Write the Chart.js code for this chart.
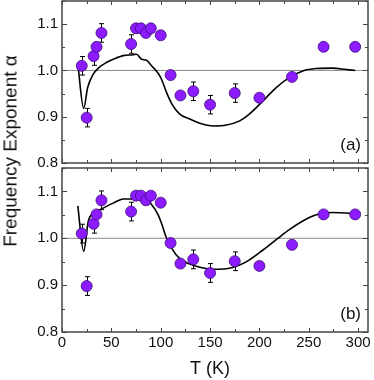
<!DOCTYPE html>
<html>
<head>
<meta charset="utf-8">
<script src="https://cdn.jsdelivr.net/npm/chart.js@4/dist/chart.umd.min.js"></script>
<style>
  html, body { margin: 0; padding: 0; background: #fff; }
  body { width: 374px; height: 380px; position: relative; overflow: hidden; font-family: "Liberation Sans", Arial, sans-serif; }
  #wrapA { position: absolute; left: 0; top: 0; width: 374px; height: 180px; }
  #wrapB { position: absolute; left: 0; top: 160px; width: 374px; height: 220px; }
  #ytitle { position: absolute; left: 9.5px; top: 151px; width: 260px; text-align: center;
            font-size: 19px; line-height: 19px; color: #111; white-space: nowrap;
            transform: translate(-50%, -50%) rotate(-90deg); }
</style>
</head>
<body>
<div id="wrapA"><canvas id="cA"></canvas></div>
<div id="wrapB"><canvas id="cB"></canvas></div>
<div id="ytitle">Frequency Exponent α</div>
<script>
// ---- data ----
const tempK = [20, 25, 32, 35, 40, 70, 75, 80, 85, 90, 100, 110, 120, 133, 150, 175, 200, 233, 265, 297];
const alphaVals = [1.010, 0.898, 1.031, 1.051, 1.081, 1.057, 1.091, 1.091, 1.081, 1.091, 1.076, 0.990, 0.946, 0.955, 0.926, 0.951, 0.941, 0.986, 1.051, 1.051];
const alphaErr = [0.02, 0.02, 0.02, 0, 0.02, 0.02, 0, 0, 0, 0, 0, 0, 0, 0.02, 0.02, 0.02, 0, 0, 0, 0];

const curveA_T = [16, 22, 26, 31.7, 37.4, 45, 51.9, 62, 72, 75.5, 80.6, 85.7, 90.7, 97.4, 100.8, 106, 111, 119, 129.5, 139.6, 153, 166.6, 180, 190, 203.6, 217, 230.6, 244, 257.6, 274, 288, 297];
const curveA_V = [1.014, 0.918, 0.963, 0.992, 1.006, 1.017, 1.024, 1.032, 1.034, 1.035, 1.024, 1.022, 1.010, 0.994, 0.981, 0.952, 0.929, 0.906, 0.895, 0.886, 0.880, 0.882, 0.891, 0.906, 0.934, 0.963, 0.985, 0.999, 1.004, 1.005, 1.002, 1.000];

const curveB_T = [16, 22, 26.6, 31.7, 38.4, 51.9, 62, 75.5, 85.7, 90.7, 97.4, 100.8, 106, 111, 119, 129.5, 139.6, 153, 166.6, 180, 190, 203.6, 217, 230.6, 244, 257.6, 274, 288, 297];
const curveB_V = [1.069, 0.972, 1.036, 1.054, 1.061, 1.075, 1.084, 1.084, 1.081, 1.072, 1.050, 1.032, 1.000, 0.979, 0.957, 0.945, 0.938, 0.934, 0.935, 0.943, 0.954, 0.975, 0.997, 1.019, 1.037, 1.050, 1.055, 1.054, 1.052];

const xTicks = [0, 50, 100, 150, 200, 250, 300];
const xMinor = [25, 75, 125, 175, 225, 275];
const yTicks = [0.8, 0.9, 1.0, 1.1];
const yMinor = [0.85, 0.95, 1.05, 1.15];
const refLine = [0, 310];
const refValue = 1.0;
const X_MIN = 0, X_MAX = 310, Y_MIN = 0.8, Y_MAX = 1.15;

// ---- plugins ----
const frameColor = '#444';
const framePlugin = {
  id: 'frame',
  afterDraw(chart, args, opts) {
    const {ctx, chartArea: a} = chart;
    const xs = chart.scales.x, ys = chart.scales.y;
    ctx.save();
    ctx.strokeStyle = frameColor;
    ctx.lineWidth = 1.5;
    ctx.strokeRect(a.left, a.top, a.right - a.left, a.bottom - a.top);
    ctx.lineWidth = 1;
    ctx.beginPath();
    const xt = (v, len) => {
      const p = Math.round(xs.getPixelForValue(v)) + 0.5;
      ctx.moveTo(p, a.bottom); ctx.lineTo(p, a.bottom - len);
      ctx.moveTo(p, a.top); ctx.lineTo(p, a.top + len);
    };
    const yt = (v, len) => {
      const p = Math.round(ys.getPixelForValue(v)) + 0.5;
      ctx.moveTo(a.left, p); ctx.lineTo(a.left + len, p);
      ctx.moveTo(a.right, p); ctx.lineTo(a.right - len, p);
    };
    xTicks.forEach(v => xt(v, 4));
    xMinor.forEach(v => xt(v, 3));
    yTicks.forEach(v => yt(v, 5));
    yMinor.forEach(v => yt(v, 3));
    ctx.stroke();
    // panel label
    ctx.fillStyle = '#111';
    ctx.font = '17px "Liberation Sans", Arial, sans-serif';
    ctx.textAlign = 'right';
    ctx.textBaseline = 'alphabetic';
    ctx.fillText(opts.label, a.right - 7, a.bottom - 13);
    if (opts.xTitle) {
      ctx.font = '18px "Liberation Sans", Arial, sans-serif';
      ctx.textAlign = 'center';
      ctx.fillText(opts.xTitle, xs.getPixelForValue(150), chart.height - 6);
    }
    ctx.restore();
  }
};

const errPlugin = {
  id: 'errbars',
  beforeDatasetsDraw(chart) {
    const {ctx} = chart;
    const xs = chart.scales.x, ys = chart.scales.y;
    ctx.save();
    ctx.strokeStyle = '#000';
    ctx.lineWidth = 1;
    ctx.beginPath();
    tempK.forEach((t, i) => {
      const e = alphaErr[i];
      if (!e) return;
      const px = Math.round(xs.getPixelForValue(t)) + 0.5;
      const y1 = ys.getPixelForValue(alphaVals[i] + e);
      const y2 = ys.getPixelForValue(alphaVals[i] - e);
      ctx.moveTo(px, y1); ctx.lineTo(px, y2);
      ctx.moveTo(px - 2.5, y1); ctx.lineTo(px + 2.5, y1);
      ctx.moveTo(px - 2.5, y2); ctx.lineTo(px + 2.5, y2);
    });
    ctx.stroke();
    ctx.restore();
  }
};

function makeChart(id, curveT, curveV, label, bottom) {
  const points = tempK.map((t, i) => ({x: t, y: alphaVals[i]}));
  const curve = curveT.map((t, i) => ({x: t, y: curveV[i]}));
  const ref = refLine.map(t => ({x: t, y: refValue}));
  const tickFont = {family: '"Liberation Sans", Arial, sans-serif', size: 15};
  return new Chart(document.getElementById(id), {
    type: 'scatter',
    data: {
      datasets: [
        {data: ref, showLine: true, borderColor: '#8a8a8a', borderWidth: 1, pointRadius: 0, order: 3},
        {data: curve, showLine: true, borderColor: '#000', borderWidth: 1.6, pointRadius: 0,
         cubicInterpolationMode: 'monotone', order: 2},
        {data: points, showLine: false, pointRadius: 5.5, pointBackgroundColor: '#8c1cff',
         pointBorderColor: '#3d0a78', pointBorderWidth: 0.8, order: 1}
      ]
    },
    options: {
      responsive: true,
      maintainAspectRatio: false,
      animation: false,
      events: [],
      layout: {autoPadding: false,
               padding: bottom ? {left: 0, right: 6, top: 8, bottom: 0} : {left: 0, right: 6, top: 1, bottom: 17}},
      plugins: {legend: {display: false}, tooltip: {enabled: false}, frame: {label: label, xTitle: bottom ? 'T (K)' : null}},
      scales: {
        x: {
          type: 'linear', min: X_MIN, max: X_MAX,
          display: bottom,
          grid: {display: false, drawTicks: false},
          border: {display: false},
          afterBuildTicks: s => { s.ticks = xTicks.map(v => ({value: v})); },
          afterFit: s => { s.height = bottom ? 48 : 0; s.paddingLeft = 0; s.paddingRight = 0; },
          ticks: {font: tickFont, color: '#111', padding: 2, maxRotation: 0, autoSkip: false}
        },
        y: {
          type: 'linear', min: Y_MIN, max: Y_MAX,
          grid: {display: false, drawTicks: false},
          border: {display: false},
          afterBuildTicks: s => { s.ticks = yTicks.map(v => ({value: v})); },
          afterFit: s => { s.width = 62; s.paddingTop = 0; s.paddingBottom = 0; },
          ticks: {font: tickFont, color: '#111', padding: 4, callback: v => Number(v).toFixed(1)}
        }
      }
    },
    plugins: [errPlugin, framePlugin]
  });
}

makeChart('cA', curveA_T, curveA_V, '(a)', false);
makeChart('cB', curveB_T, curveB_V, '(b)', true);
</script>
</body>
</html>
